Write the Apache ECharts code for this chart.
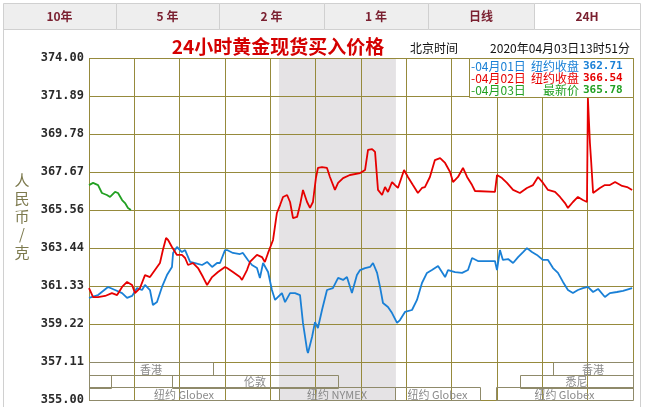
<!DOCTYPE html>
<html>
<head>
<meta charset="utf-8">
<script src="https://cdn.jsdelivr.net/npm/echarts@6/dist/echarts.min.js"></script>
<style>
html,body{margin:0;padding:0;background:#fff;}
#chart{width:646px;height:407px;}
</style>
</head>
<body>
<div id="chart"></div>
<script>
// ---- data (hours since chart start, CNY/g) ----
const blueTimes = [0,0.40,0.84,1.15,1.46,1.68,1.90,2.12,2.34,2.47,2.69,2.82,3.00,3.22,3.44,3.66,3.71,3.88,4.10,4.24,4.46,4.68,4.99,5.21,5.43,5.65,5.78,6.00,6.09,6.35,6.66,6.79,7.01,7.19,7.41,7.54,7.68,7.90,8.07,8.21,8.51,8.65,8.87,9.09,9.31,9.44,9.62,9.66,9.84,9.97,10.10,10.28,10.50,10.76,10.99,11.21,11.38,11.60,11.82,11.96,12.18,12.40,12.53,12.71,12.84,12.97,13.19,13.37,13.59,13.72,13.94,14.25,14.47,14.69,14.91,15.13,15.40,15.71,15.84,16.15,16.46,16.72,16.90,17.16,17.91,18.00,18.13,18.26,18.49,18.71,18.93,19.15,19.32,19.54,19.76,20.03,20.25,20.47,20.69,20.91,21.13,21.35,21.57,21.79,22.01,22.24,22.46,22.76,22.98,23.29,23.56,23.96];
const blueValues = [360.67,360.83,361.28,361.11,360.94,360.67,360.78,361.22,361.11,361.39,361.11,360.28,360.44,361.28,361.94,362.39,363.17,363.50,363.22,363.33,362.67,362.61,362.50,362.67,362.39,362.61,362.61,363.33,363.33,363.17,363.11,363.17,362.78,362.50,362.33,361.78,362.61,362.11,361.11,360.56,360.94,360.44,360.94,360.94,360.83,359.28,357.78,357.61,358.50,359.33,359.00,360.00,361.11,361.22,361.78,361.67,361.83,360.94,361.94,362.22,362.33,362.39,362.61,362.06,361.28,360.39,360.17,359.83,359.28,359.44,359.89,360.00,360.56,361.50,362.06,362.22,362.44,361.83,362.22,362.11,362.06,362.22,362.89,362.72,362.72,362.22,363.33,362.78,362.83,362.61,362.94,363.22,363.44,363.22,363.06,362.78,362.78,362.33,362.06,361.56,361.11,360.94,361.11,361.22,361.28,361.00,361.17,360.72,360.94,361.00,361.06,361.22];

const redTimes = [0,0.18,0.40,0.71,1.01,1.24,1.46,1.68,1.90,2.03,2.25,2.47,2.69,2.91,3.13,3.26,3.40,3.49,3.66,3.88,4.10,4.24,4.37,4.59,4.81,5.03,5.21,5.43,5.69,6.00,6.09,6.35,6.66,6.75,6.97,7.10,7.41,7.63,7.76,7.90,8.12,8.29,8.43,8.56,8.74,8.87,9.00,9.18,9.31,9.44,9.62,9.75,9.88,10.01,10.10,10.28,10.50,10.63,10.85,10.99,11.21,11.51,11.96,12.18,12.31,12.49,12.62,12.75,12.93,13.06,13.19,13.37,13.50,13.63,13.90,14.07,14.29,14.51,14.69,14.82,15.04,15.26,15.49,15.71,15.93,16.06,16.28,16.50,16.68,16.90,17.03,17.91,18.00,18.22,18.44,18.71,19.01,19.32,19.59,19.81,20.03,20.25,20.56,20.78,21.00,21.13,21.35,21.57,21.79,21.97,22.01,22.10,22.15,22.24,22.54,22.76,22.98,23.21,23.52,23.74,23.96];
const redValues = [361.22,360.72,360.72,360.78,360.94,360.83,361.28,361.56,361.39,360.94,361.22,361.94,361.83,362.22,362.61,363.33,364.00,363.89,363.50,363.06,363.06,362.89,362.50,362.61,362.33,361.83,361.39,361.83,362.11,362.39,362.33,362.11,361.83,361.67,362.22,362.67,363.06,362.94,362.67,363.17,363.89,365.39,365.83,366.28,366.39,366.00,365.11,365.17,365.83,366.67,366.00,365.67,366.00,367.33,367.89,367.94,367.89,367.39,366.67,367.06,367.33,367.50,367.61,367.78,368.89,368.94,368.78,366.67,366.39,366.83,366.56,367.11,366.94,366.78,367.78,367.39,366.94,366.50,366.78,366.83,367.39,368.33,368.44,368.17,367.67,367.11,367.39,367.89,367.39,366.94,366.61,366.56,367.50,367.33,367.06,366.67,366.50,366.78,366.94,367.39,367.06,366.67,366.56,366.28,365.94,365.67,366.00,366.28,366.11,366.00,371.78,369.28,368.33,366.50,366.78,366.94,366.94,367.11,366.89,366.83,366.67];

const greenTimes = [0,0.18,0.40,0.57,0.79,0.93,1.15,1.28,1.46,1.59,1.72,1.85];
const greenValues = [366.94,367.06,366.94,366.50,366.39,366.28,366.56,366.50,366.11,365.94,365.67,365.56];

// y tick labels: 355.00 ... 374.00
const yMin = 355, yMax = 374, yStep = 19 / 9;

// trading sessions (hours), row 0 = top
const sessionNames = ['香港', '', '伦敦', '纽约 Globex', '纽约 NYMEX', '纽约 Globex', '纽约 Globex', '悉尼', '香港'];
const sessionStart = [0, 0, 3.66, 0, 8.38, 13.50, 17.95, 19.01, 20.47];
const sessionEnd   = [5.47, 0.97, 10.98, 8.38, 13.50, 17.25, 24, 24, 24];
const sessionRow   = [0, 1, 1, 2, 2, 2, 2, 1, 0];

const bandStart = [8.38], bandEnd = [13.54];

const tabLabels = ['10年', '5 年', '2 年', '1 年', '日线', '24H'];
const legendDates = ['-04月01日', '-04月02日', '-04月03日'];
const legendNames = ['纽约收盘', '纽约收盘', '最新价'];
const legendValues = ['362.71', '366.54', '365.78'];

const BLUE = '#1a80d6', RED = '#e60000', GREEN = '#22a022';
const GRID = '#968a3c';
const CJK = '"Noto Sans CJK SC", "Noto Sans", sans-serif';

function pairs(t, v) { return t.map((x, i) => [x, v[i]]); }

const chart = echarts.init(document.getElementById('chart'), null, { renderer: 'canvas' });

const graphics = [];
const tabEdges = [3, 116, 219, 324, 428, 534, 640];
tabLabels.forEach((t, i) => {
  const active = i === tabLabels.length - 1;
  graphics.push({
    type: 'rect', left: tabEdges[i], top: 3,
    shape: { width: tabEdges[i + 1] - tabEdges[i], height: 26 },
    style: { fill: active ? '#ffffff' : '#eeeeee', stroke: '#d0d0d0', lineWidth: 1 }
  });
  graphics.push({
    type: 'text', x: (tabEdges[i] + tabEdges[i + 1]) / 2, y: 16,
    style: { text: t, align: 'center', verticalAlign: 'middle', fill: '#7a2030',
      font: 'bold 12px ' + CJK }
  });
});
graphics.push({ type: 'line', shape: { x1: 3.5, y1: 29, x2: 3.5, y2: 407 }, style: { stroke: '#d0d0d0', lineWidth: 1 } });
graphics.push({ type: 'line', shape: { x1: 640.5, y1: 29, x2: 640.5, y2: 407 }, style: { stroke: '#d0d0d0', lineWidth: 1 } });
graphics.push({ type: 'text', x: 278, y: 47,
  style: { text: '24小时黄金现货买入价格', align: 'center', verticalAlign: 'middle', fill: '#d40000',
    font: 'bold 19px ' + CJK } });
graphics.push({ type: 'text', x: 410, y: 48,
  style: { text: '北京时间', align: 'left', verticalAlign: 'middle', fill: '#111', font: '12px ' + CJK } });
graphics.push({ type: 'text', x: 630, y: 48,
  style: { text: '2020年04月03日13时51分', align: 'right', verticalAlign: 'middle', fill: '#111', font: '12px ' + CJK } });
graphics.push({ type: 'rect', left: 469, top: 58, shape: { width: 164, height: 39 },
  style: { fill: '#ffffff', stroke: GRID, lineWidth: 1 }, z: 10 });
const legColors = [BLUE, RED, GREEN];
legendDates.forEach((d, i) => {
  const y = 66 + i * 12;
  graphics.push({ type: 'text', x: 471, y: y, z: 11,
    style: { text: d, align: 'left', verticalAlign: 'middle', fill: legColors[i], font: '12px ' + CJK } });
  graphics.push({ type: 'text', x: 579, y: y, z: 11,
    style: { text: legendNames[i], align: 'right', verticalAlign: 'middle', fill: legColors[i], font: '12px ' + CJK } });
  graphics.push({ type: 'text', x: 583, y: y, z: 11,
    style: { text: legendValues[i], align: 'left', verticalAlign: 'middle', fill: legColors[i],
      font: 'bold 11px "DejaVu Sans Mono", monospace' } });
});
graphics.push({ type: 'text', x: 22, y: 216,
  style: { text: '人\n民\n币\n/\n克', align: 'center', verticalAlign: 'middle', fill: '#7d7a4e',
    font: '15px ' + CJK, lineHeight: 18 } });

const option = {
  backgroundColor: '#ffffff',
  animation: false,
  grid: { left: 89, right: 13, top: 58, bottom: 7, containLabel: false },
  xAxis: {
    type: 'value', min: 0, max: 24, interval: 2,
    axisLine: { show: false }, axisTick: { show: false }, axisLabel: { show: false },
    splitLine: { show: true, lineStyle: { color: GRID, width: 1 } }
  },
  yAxis: {
    type: 'value', min: yMin, max: yMax, interval: yStep,
    axisLine: { show: false }, axisTick: { show: false },
    axisLabel: { margin: 5, color: '#2a2a2a', fontWeight: 'bold', fontSize: 12,
      fontFamily: '"DejaVu Sans Mono", monospace',
      formatter: v => v.toFixed(2) },
    splitLine: { show: true, lineStyle: { color: GRID, width: 1 } }
  },
  graphic: graphics,
  series: [
    {
      type: 'custom', z: -1, silent: true,
      data: bandStart.map((s, i) => [s, bandEnd[i]]),
      renderItem: (params, api) => {
        const p0 = api.coord([api.value(0), yMax]);
        const p1 = api.coord([api.value(1), yMin]);
        return { type: 'rect', shape: { x: p0[0], y: p0[1], width: p1[0] - p0[0], height: p1[1] - p0[1] },
          style: { fill: '#e5e3e5' } };
      }
    },
    {
      type: 'custom', silent: true, z: 3,
      data: sessionStart.map((s, i) => [s, sessionEnd[i], sessionRow[i]]),
      renderItem: (params, api) => {
        const top = api.coord([0, yMin + yStep])[1];
        const bot = api.coord([0, yMin])[1];
        const h = (bot - top) / 3;
        const x0 = api.coord([api.value(0), yMin])[0];
        const x1 = api.coord([api.value(1), yMin])[0];
        const y0 = top + api.value(2) * h;
        return { type: 'group', children: [
          { type: 'rect', shape: { x: Math.round(x0) + 0.5, y: Math.round(y0) + 0.5, width: Math.round(x1 - x0), height: Math.round(h) },
            style: { fill: 'none', stroke: '#8f8a6a', lineWidth: 1 } },
          { type: 'text', style: { text: sessionNames[params.dataIndex], x: (x0 + x1) / 2, y: y0 + h / 2 + 1,
            align: 'center', verticalAlign: 'middle', fill: '#8a8a8a', font: '11px ' + CJK } }
        ] };
      }
    },
    { name: '04月01日', type: 'line', data: pairs(blueTimes, blueValues), showSymbol: false, z: 4,
      lineStyle: { color: BLUE, width: 1.8 }, itemStyle: { color: BLUE } },
    { name: '04月02日', type: 'line', data: pairs(redTimes, redValues), showSymbol: false, z: 5,
      lineStyle: { color: RED, width: 1.8 }, itemStyle: { color: RED } },
    { name: '04月03日', type: 'line', data: pairs(greenTimes, greenValues), showSymbol: false, z: 6,
      lineStyle: { color: GREEN, width: 1.8 }, itemStyle: { color: GREEN } }
  ]
};
chart.setOption(option);
</script>
</body>
</html>
